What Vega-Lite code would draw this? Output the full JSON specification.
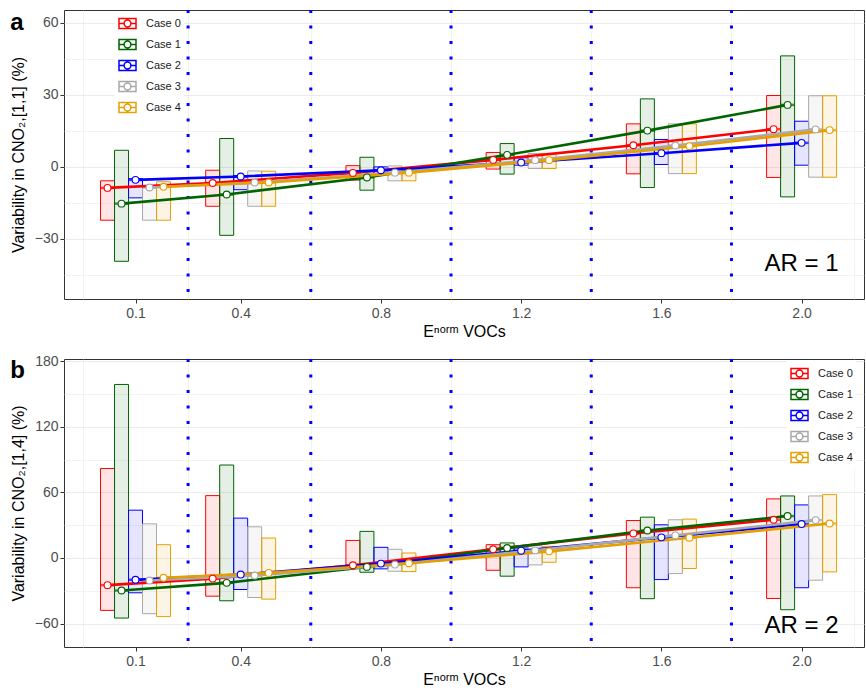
{
  "$schema": "https://vega.github.io/schema/vega-lite/v6.json",
  "padding": {"left": 9, "top": 8, "right": 0, "bottom": 0},
  "background": "white",
  "config": {
    "font": "Liberation Sans",
    "view": {"stroke": "#333333", "strokeWidth": 1},
    "axis": {
      "domain": false, "tickColor": "#333333", "tickSize": 4, "tickWidth": 1,
      "labelColor": "#4D4D4D", "labelFontSize": 14, "labelFont": "Liberation Sans", "labelPadding": 2,
      "titleFont": "Liberation Sans", "titleFontSize": 16, "titleFontWeight": "normal", "titleColor": "#000000",
      "gridColor": "#EBEBEB", "gridWidth": 1
    },
    "axisX": {"labelPadding": 3, "titlePadding": 3},
    "axisY": {"titlePadding": 8},
    "legend": {
      "orient": "none", "title": null,
      "labelFontSize": 11, "labelFont": "Liberation Sans", "labelColor": "#1A1A1A",
      "fillColor": "white", "padding": 3, "rowPadding": 3, "labelOffset": 9
    },
    "title": {"font": "Liberation Sans", "fontSize": 24, "fontWeight": "bold", "color": "#000000"}
  },
  "datasets": {
    "panelA": [
      {"E": 0.1, "case": "Case 0", "lo": -22.2, "mid": -8.75, "hi": -5.8},
      {"E": 0.1, "case": "Case 1", "lo": -39.3, "mid": -15.3, "hi": 6.9},
      {"E": 0.1, "case": "Case 2", "lo": -12.9, "mid": -5.4, "hi": -4.9},
      {"E": 0.1, "case": "Case 3", "lo": -22.2, "mid": -8.6, "hi": -7.8},
      {"E": 0.1, "case": "Case 4", "lo": -22.2, "mid": -8.3, "hi": -6.2},
      {"E": 0.4, "case": "Case 0", "lo": -16.4, "mid": -6.7, "hi": -1.4},
      {"E": 0.4, "case": "Case 1", "lo": -28.5, "mid": -11.5, "hi": 11.8},
      {"E": 0.4, "case": "Case 2", "lo": -9.5, "mid": -4.0, "hi": -3.6},
      {"E": 0.4, "case": "Case 3", "lo": -16.4, "mid": -6.5, "hi": -1.7},
      {"E": 0.4, "case": "Case 4", "lo": -16.4, "mid": -6.5, "hi": -1.8},
      {"E": 0.8, "case": "Case 0", "lo": -5.5, "mid": -2.5, "hi": 0.5},
      {"E": 0.8, "case": "Case 1", "lo": -9.7, "mid": -4.4, "hi": 4.0},
      {"E": 0.8, "case": "Case 2", "lo": -2.8, "mid": -1.4, "hi": 0.0},
      {"E": 0.8, "case": "Case 3", "lo": -5.8, "mid": -2.4, "hi": 0.4},
      {"E": 0.8, "case": "Case 4", "lo": -5.8, "mid": -2.4, "hi": -1.4},
      {"E": 1.2, "case": "Case 0", "lo": -0.9, "mid": 2.9, "hi": 6.0},
      {"E": 1.2, "case": "Case 1", "lo": -3.0, "mid": 5.0, "hi": 9.7},
      {"E": 1.2, "case": "Case 2", "lo": 0.7, "mid": 1.8, "hi": 3.8},
      {"E": 1.2, "case": "Case 3", "lo": -0.7, "mid": 2.8, "hi": 5.6},
      {"E": 1.2, "case": "Case 4", "lo": -0.7, "mid": 2.8, "hi": 5.6},
      {"E": 1.6, "case": "Case 0", "lo": -2.9, "mid": 9.0, "hi": 17.9},
      {"E": 1.6, "case": "Case 1", "lo": -8.6, "mid": 15.1, "hi": 28.3},
      {"E": 1.6, "case": "Case 2", "lo": 1.0, "mid": 5.7, "hi": 11.4},
      {"E": 1.6, "case": "Case 3", "lo": -2.8, "mid": 8.9, "hi": 17.9},
      {"E": 1.6, "case": "Case 4", "lo": -2.8, "mid": 8.6, "hi": 17.9},
      {"E": 2.0, "case": "Case 0", "lo": -4.4, "mid": 15.7, "hi": 29.7},
      {"E": 2.0, "case": "Case 1", "lo": -12.5, "mid": 25.8, "hi": 46.2},
      {"E": 2.0, "case": "Case 2", "lo": 0.7, "mid": 10.0, "hi": 19.0},
      {"E": 2.0, "case": "Case 3", "lo": -4.3, "mid": 15.6, "hi": 29.6},
      {"E": 2.0, "case": "Case 4", "lo": -4.3, "mid": 15.3, "hi": 29.6}
    ],
    "panelB": [
      {"E": 0.1, "case": "Case 0", "lo": -48.0, "mid": -24.9, "hi": 81.8},
      {"E": 0.1, "case": "Case 1", "lo": -55.0, "mid": -29.8, "hi": 158.7},
      {"E": 0.1, "case": "Case 2", "lo": -31.9, "mid": -20.0, "hi": 43.7},
      {"E": 0.1, "case": "Case 3", "lo": -51.0, "mid": -20.7, "hi": 31.2},
      {"E": 0.1, "case": "Case 4", "lo": -53.7, "mid": -18.2, "hi": 12.1},
      {"E": 0.4, "case": "Case 0", "lo": -35.0, "mid": -18.9, "hi": 57.0},
      {"E": 0.4, "case": "Case 1", "lo": -39.2, "mid": -22.8, "hi": 85.0},
      {"E": 0.4, "case": "Case 2", "lo": -28.9, "mid": -15.2, "hi": 36.4},
      {"E": 0.4, "case": "Case 3", "lo": -36.2, "mid": -16.1, "hi": 28.5},
      {"E": 0.4, "case": "Case 4", "lo": -37.7, "mid": -13.7, "hi": 18.2},
      {"E": 0.8, "case": "Case 0", "lo": -9.1, "mid": -6.7, "hi": 16.0},
      {"E": 0.8, "case": "Case 1", "lo": -13.1, "mid": -8.2, "hi": 24.3},
      {"E": 0.8, "case": "Case 2", "lo": -10.0, "mid": -5.2, "hi": 9.7},
      {"E": 0.8, "case": "Case 3", "lo": -12.2, "mid": -6.1, "hi": 7.9},
      {"E": 0.8, "case": "Case 4", "lo": -12.5, "mid": -4.9, "hi": 4.5},
      {"E": 1.2, "case": "Case 0", "lo": -11.3, "mid": 7.9, "hi": 12.1},
      {"E": 1.2, "case": "Case 1", "lo": -16.7, "mid": 9.1, "hi": 13.7},
      {"E": 1.2, "case": "Case 2", "lo": -8.2, "mid": 6.6, "hi": 9.1},
      {"E": 1.2, "case": "Case 3", "lo": -6.4, "mid": 6.9, "hi": 11.2},
      {"E": 1.2, "case": "Case 4", "lo": -4.0, "mid": 6.0, "hi": 10.6},
      {"E": 1.6, "case": "Case 0", "lo": -27.3, "mid": 22.4, "hi": 34.2},
      {"E": 1.6, "case": "Case 1", "lo": -37.3, "mid": 25.1, "hi": 37.3},
      {"E": 1.6, "case": "Case 2", "lo": -19.8, "mid": 18.8, "hi": 30.3},
      {"E": 1.6, "case": "Case 3", "lo": -14.3, "mid": 20.6, "hi": 34.9},
      {"E": 1.6, "case": "Case 4", "lo": -9.7, "mid": 18.5, "hi": 35.5},
      {"E": 2.0, "case": "Case 0", "lo": -37.1, "mid": 34.9, "hi": 54.0},
      {"E": 2.0, "case": "Case 1", "lo": -47.4, "mid": 38.3, "hi": 56.7},
      {"E": 2.0, "case": "Case 2", "lo": -27.3, "mid": 31.0, "hi": 48.5},
      {"E": 2.0, "case": "Case 3", "lo": -20.4, "mid": 34.6, "hi": 56.7},
      {"E": 2.0, "case": "Case 4", "lo": -12.8, "mid": 31.5, "hi": 57.9}
    ],
    "seps": [{"sep": 0.25}, {"sep": 0.6}, {"sep": 1.0}, {"sep": 1.4}, {"sep": 1.8}]
  },
  "vconcat": [
    {
      "width": 800, "height": 289,
      "title": {"text": "a", "anchor": "start", "frame": "bounds", "baseline": "top", "offset": -33, "dy": -7},
      "data": {"name": "panelA"},
      "layer": [
        {"data": {"name": "seps"}, "mark": {"type": "rule", "color": "#0000FF", "strokeWidth": 3, "strokeDash": [3, 12.5]},
         "encoding": {"x": {"field": "sep", "type": "quantitative", "scale": {"domain": [-0.104, 2.178], "nice": false, "zero": false},
           "axis": {"orient": "top", "values": [-0.05, 0.25, 0.6, 1.0, 1.4, 1.8, 2.15], "labels": false, "ticks": false, "domain": false, "grid": true, "gridWidth": 0.6, "title": null}}}},
        {"transform": [{"filter": {"field": "case", "equal": "Case 0"}}],
         "mark": {"type": "rect", "width": 14, "fillOpacity": 0.1, "strokeWidth": 1, "xOffset": -28},
         "encoding": {
           "x": {"field": "E", "type": "quantitative", "scale": {"domain": [-0.104, 2.178], "nice": false, "zero": false},
                 "axis": {"values": [0.1, 0.4, 0.8, 1.2, 1.6, 2.0], "format": ".1f", "title": "Eⁿᵒʳᵐ VOCs"}},
           "y": {"field": "lo", "type": "quantitative", "scale": {"domain": [-55, 65.3], "nice": false, "zero": false},
                 "axis": {"values": [-30, 0, 30, 60], "format": "d", "title": "Variability in CNO₂,[1,1] (%)"}},
           "y2": {"field": "hi"},
           "fill": {"field": "case", "type": "nominal", "scale": {"range": ["#FF0000", "#006400", "#0000FF", "#A9A9A9", "#E69F00"]}, "legend": null},
           "stroke": {"field": "case", "type": "nominal", "scale": {"range": ["#FF0000", "#006400", "#0000FF", "#A9A9A9", "#E69F00"]}, "legend": null}}},
        {"transform": [{"filter": {"field": "case", "equal": "Case 1"}}], "mark": {"type": "rect", "width": 14, "fillOpacity": 0.1, "strokeWidth": 1, "xOffset": -14},
         "encoding": {"x": {"field": "E", "type": "quantitative", "axis": null}, "y": {"field": "lo", "type": "quantitative", "axis": null}, "y2": {"field": "hi"}, "fill": {"field": "case", "type": "nominal", "legend": null}, "stroke": {"field": "case", "type": "nominal", "legend": null}}},
        {"transform": [{"filter": {"field": "case", "equal": "Case 2"}}], "mark": {"type": "rect", "width": 14, "fillOpacity": 0.1, "strokeWidth": 1, "xOffset": 0},
         "encoding": {"x": {"field": "E", "type": "quantitative", "axis": null}, "y": {"field": "lo", "type": "quantitative", "axis": null}, "y2": {"field": "hi"}, "fill": {"field": "case", "type": "nominal", "legend": null}, "stroke": {"field": "case", "type": "nominal", "legend": null}}},
        {"transform": [{"filter": {"field": "case", "equal": "Case 3"}}], "mark": {"type": "rect", "width": 14, "fillOpacity": 0.1, "strokeWidth": 1, "xOffset": 14},
         "encoding": {"x": {"field": "E", "type": "quantitative", "axis": null}, "y": {"field": "lo", "type": "quantitative", "axis": null}, "y2": {"field": "hi"}, "fill": {"field": "case", "type": "nominal", "legend": null}, "stroke": {"field": "case", "type": "nominal", "legend": null}}},
        {"transform": [{"filter": {"field": "case", "equal": "Case 4"}}], "mark": {"type": "rect", "width": 14, "fillOpacity": 0.1, "strokeWidth": 1, "xOffset": 28},
         "encoding": {"x": {"field": "E", "type": "quantitative", "axis": null}, "y": {"field": "lo", "type": "quantitative", "axis": null}, "y2": {"field": "hi"}, "fill": {"field": "case", "type": "nominal", "legend": null}, "stroke": {"field": "case", "type": "nominal", "legend": null}}},
        {"transform": [{"filter": {"field": "case", "equal": "Case 0"}}], "mark": {"type": "tick", "orient": "horizontal", "size": 14, "thickness": 2.5, "xOffset": -28},
         "encoding": {"x": {"field": "E", "type": "quantitative", "axis": null}, "y": {"field": "mid", "type": "quantitative", "axis": null}, "fill": {"field": "case", "type": "nominal", "legend": null}}},
        {"transform": [{"filter": {"field": "case", "equal": "Case 1"}}], "mark": {"type": "tick", "orient": "horizontal", "size": 14, "thickness": 2.5, "xOffset": -14},
         "encoding": {"x": {"field": "E", "type": "quantitative", "axis": null}, "y": {"field": "mid", "type": "quantitative", "axis": null}, "fill": {"field": "case", "type": "nominal", "legend": null}}},
        {"transform": [{"filter": {"field": "case", "equal": "Case 2"}}], "mark": {"type": "tick", "orient": "horizontal", "size": 14, "thickness": 2.5, "xOffset": 0},
         "encoding": {"x": {"field": "E", "type": "quantitative", "axis": null}, "y": {"field": "mid", "type": "quantitative", "axis": null}, "fill": {"field": "case", "type": "nominal", "legend": null}}},
        {"transform": [{"filter": {"field": "case", "equal": "Case 3"}}], "mark": {"type": "tick", "orient": "horizontal", "size": 14, "thickness": 2.5, "xOffset": 14},
         "encoding": {"x": {"field": "E", "type": "quantitative", "axis": null}, "y": {"field": "mid", "type": "quantitative", "axis": null}, "fill": {"field": "case", "type": "nominal", "legend": null}}},
        {"transform": [{"filter": {"field": "case", "equal": "Case 4"}}], "mark": {"type": "tick", "orient": "horizontal", "size": 14, "thickness": 2.5, "xOffset": 28},
         "encoding": {"x": {"field": "E", "type": "quantitative", "axis": null}, "y": {"field": "mid", "type": "quantitative", "axis": null}, "fill": {"field": "case", "type": "nominal", "legend": null}}},
        {"transform": [{"filter": {"field": "case", "equal": "Case 0"}}], "mark": {"type": "line", "strokeWidth": 2.6, "xOffset": -28},
         "encoding": {"x": {"field": "E", "type": "quantitative", "axis": null}, "y": {"field": "mid", "type": "quantitative", "axis": null}, "stroke": {"field": "case", "type": "nominal", "legend": null}}},
        {"transform": [{"filter": {"field": "case", "equal": "Case 1"}}], "mark": {"type": "line", "strokeWidth": 2.6, "xOffset": -14},
         "encoding": {"x": {"field": "E", "type": "quantitative", "axis": null}, "y": {"field": "mid", "type": "quantitative", "axis": null}, "stroke": {"field": "case", "type": "nominal", "legend": null}}},
        {"transform": [{"filter": {"field": "case", "equal": "Case 2"}}], "mark": {"type": "line", "strokeWidth": 2.6, "xOffset": 0},
         "encoding": {"x": {"field": "E", "type": "quantitative", "axis": null}, "y": {"field": "mid", "type": "quantitative", "axis": null}, "stroke": {"field": "case", "type": "nominal", "legend": null}}},
        {"transform": [{"filter": {"field": "case", "equal": "Case 3"}}], "mark": {"type": "line", "strokeWidth": 2.6, "xOffset": 14},
         "encoding": {"x": {"field": "E", "type": "quantitative", "axis": null}, "y": {"field": "mid", "type": "quantitative", "axis": null}, "stroke": {"field": "case", "type": "nominal", "legend": null}}},
        {"transform": [{"filter": {"field": "case", "equal": "Case 4"}}], "mark": {"type": "line", "strokeWidth": 2.6, "xOffset": 28},
         "encoding": {"x": {"field": "E", "type": "quantitative", "axis": null}, "y": {"field": "mid", "type": "quantitative", "axis": null}, "stroke": {"field": "case", "type": "nominal", "legend": null}}},
        {"transform": [{"filter": {"field": "case", "equal": "Case 0"}}], "mark": {"type": "point", "filled": true, "fill": "white", "size": 46, "strokeWidth": 1.1, "opacity": 1, "xOffset": -28},
         "encoding": {"x": {"field": "E", "type": "quantitative", "axis": null}, "y": {"field": "mid", "type": "quantitative", "axis": null}, "stroke": {"field": "case", "type": "nominal", "legend": null}}},
        {"transform": [{"filter": {"field": "case", "equal": "Case 1"}}], "mark": {"type": "point", "filled": true, "fill": "white", "size": 46, "strokeWidth": 1.1, "opacity": 1, "xOffset": -14},
         "encoding": {"x": {"field": "E", "type": "quantitative", "axis": null}, "y": {"field": "mid", "type": "quantitative", "axis": null}, "stroke": {"field": "case", "type": "nominal", "legend": null}}},
        {"transform": [{"filter": {"field": "case", "equal": "Case 2"}}], "mark": {"type": "point", "filled": true, "fill": "white", "size": 46, "strokeWidth": 1.1, "opacity": 1, "xOffset": 0},
         "encoding": {"x": {"field": "E", "type": "quantitative", "axis": null}, "y": {"field": "mid", "type": "quantitative", "axis": null}, "stroke": {"field": "case", "type": "nominal", "legend": null}}},
        {"transform": [{"filter": {"field": "case", "equal": "Case 3"}}], "mark": {"type": "point", "filled": true, "fill": "white", "size": 46, "strokeWidth": 1.1, "opacity": 1, "xOffset": 14},
         "encoding": {"x": {"field": "E", "type": "quantitative", "axis": null}, "y": {"field": "mid", "type": "quantitative", "axis": null}, "stroke": {"field": "case", "type": "nominal", "legend": null}}},
        {"transform": [{"filter": {"field": "case", "equal": "Case 4"}}], "mark": {"type": "point", "filled": true, "fill": "white", "size": 46, "strokeWidth": 1.1, "opacity": 1, "xOffset": 28},
         "encoding": {"x": {"field": "E", "type": "quantitative", "axis": null}, "y": {"field": "mid", "type": "quantitative", "axis": null}, "stroke": {"field": "case", "type": "nominal", "legend": null}}},
        {"transform": [{"filter": {"field": "case", "equal": "none"}}],
         "mark": {"type": "point", "filled": false, "strokeWidth": 1.5},
         "encoding": {"x": {"field": "E", "type": "quantitative", "axis": null}, "y": {"field": "mid", "type": "quantitative", "axis": null},
           "color": {"field": "case", "type": "nominal", "scale": {"domain": ["Case 0", "Case 1", "Case 2", "Case 3", "Case 4"], "range": ["#FF0000", "#006400", "#0000FF", "#A9A9A9", "#E69F00"]},
             "legend": {"legendX": 51, "legendY": 1, "symbolType": "M-1,-0.6H1V0.6H-1Z M-1,0H-0.4 M0.4,0H1 M0.4,0A0.4,0.4 0 1 1 -0.4,0A0.4,0.4 0 1 1 0.4,0", "symbolSize": 289, "symbolStrokeWidth": 1.5, "symbolFillColor": "white", "symbolOpacity": 1}}}},
        {"data": {"values": [{"label": "AR = 1"}]},
         "mark": {"type": "text", "fontSize": 24, "font": "Liberation Sans", "align": "center", "baseline": "middle", "color": "#000000"},
         "encoding": {"text": {"field": "label", "type": "nominal"},
           "x": {"datum": 2.0, "type": "quantitative", "axis": null},
           "y": {"datum": -40.5, "type": "quantitative",
                 "axis": {"orient": "right", "values": [-45, -15, 15, 45], "labels": false, "ticks": false, "domain": false, "grid": true, "gridWidth": 0.6, "title": null}}}}
      ],
      "resolve": {"axis": {"x": "independent", "y": "independent"}}
    },
    {
      "width": 800, "height": 288,
      "title": {"text": "b", "anchor": "start", "frame": "bounds", "baseline": "top", "offset": -33, "dy": -4},
      "data": {"name": "panelB"},
      "layer": [
        {"data": {"name": "seps"}, "mark": {"type": "rule", "color": "#0000FF", "strokeWidth": 3, "strokeDash": [3, 12.5]},
         "encoding": {"x": {"field": "sep", "type": "quantitative", "scale": {"domain": [-0.104, 2.178], "nice": false, "zero": false},
           "axis": {"orient": "top", "values": [-0.05, 0.25, 0.6, 1.0, 1.4, 1.8, 2.15], "labels": false, "ticks": false, "domain": false, "grid": true, "gridWidth": 0.6, "title": null}}}},
        {"transform": [{"filter": {"field": "case", "equal": "Case 0"}}],
         "mark": {"type": "rect", "width": 14, "fillOpacity": 0.1, "strokeWidth": 1, "xOffset": -28},
         "encoding": {
           "x": {"field": "E", "type": "quantitative", "scale": {"domain": [-0.104, 2.178], "nice": false, "zero": false},
                 "axis": {"values": [0.1, 0.4, 0.8, 1.2, 1.6, 2.0], "format": ".1f", "title": "Eⁿᵒʳᵐ VOCs"}},
           "y": {"field": "lo", "type": "quantitative", "scale": {"domain": [-81.5, 182], "nice": false, "zero": false},
                 "axis": {"values": [-60, 0, 60, 120, 180], "format": "d", "title": "Variability in CNO₂,[1,4] (%)"}},
           "y2": {"field": "hi"},
           "fill": {"field": "case", "type": "nominal", "scale": {"range": ["#FF0000", "#006400", "#0000FF", "#A9A9A9", "#E69F00"]}, "legend": null},
           "stroke": {"field": "case", "type": "nominal", "scale": {"range": ["#FF0000", "#006400", "#0000FF", "#A9A9A9", "#E69F00"]}, "legend": null}}},
        {"transform": [{"filter": {"field": "case", "equal": "Case 1"}}], "mark": {"type": "rect", "width": 14, "fillOpacity": 0.1, "strokeWidth": 1, "xOffset": -14},
         "encoding": {"x": {"field": "E", "type": "quantitative", "axis": null}, "y": {"field": "lo", "type": "quantitative", "axis": null}, "y2": {"field": "hi"}, "fill": {"field": "case", "type": "nominal", "legend": null}, "stroke": {"field": "case", "type": "nominal", "legend": null}}},
        {"transform": [{"filter": {"field": "case", "equal": "Case 2"}}], "mark": {"type": "rect", "width": 14, "fillOpacity": 0.1, "strokeWidth": 1, "xOffset": 0},
         "encoding": {"x": {"field": "E", "type": "quantitative", "axis": null}, "y": {"field": "lo", "type": "quantitative", "axis": null}, "y2": {"field": "hi"}, "fill": {"field": "case", "type": "nominal", "legend": null}, "stroke": {"field": "case", "type": "nominal", "legend": null}}},
        {"transform": [{"filter": {"field": "case", "equal": "Case 3"}}], "mark": {"type": "rect", "width": 14, "fillOpacity": 0.1, "strokeWidth": 1, "xOffset": 14},
         "encoding": {"x": {"field": "E", "type": "quantitative", "axis": null}, "y": {"field": "lo", "type": "quantitative", "axis": null}, "y2": {"field": "hi"}, "fill": {"field": "case", "type": "nominal", "legend": null}, "stroke": {"field": "case", "type": "nominal", "legend": null}}},
        {"transform": [{"filter": {"field": "case", "equal": "Case 4"}}], "mark": {"type": "rect", "width": 14, "fillOpacity": 0.1, "strokeWidth": 1, "xOffset": 28},
         "encoding": {"x": {"field": "E", "type": "quantitative", "axis": null}, "y": {"field": "lo", "type": "quantitative", "axis": null}, "y2": {"field": "hi"}, "fill": {"field": "case", "type": "nominal", "legend": null}, "stroke": {"field": "case", "type": "nominal", "legend": null}}},
        {"transform": [{"filter": {"field": "case", "equal": "Case 0"}}], "mark": {"type": "tick", "orient": "horizontal", "size": 14, "thickness": 2.5, "xOffset": -28},
         "encoding": {"x": {"field": "E", "type": "quantitative", "axis": null}, "y": {"field": "mid", "type": "quantitative", "axis": null}, "fill": {"field": "case", "type": "nominal", "legend": null}}},
        {"transform": [{"filter": {"field": "case", "equal": "Case 1"}}], "mark": {"type": "tick", "orient": "horizontal", "size": 14, "thickness": 2.5, "xOffset": -14},
         "encoding": {"x": {"field": "E", "type": "quantitative", "axis": null}, "y": {"field": "mid", "type": "quantitative", "axis": null}, "fill": {"field": "case", "type": "nominal", "legend": null}}},
        {"transform": [{"filter": {"field": "case", "equal": "Case 2"}}], "mark": {"type": "tick", "orient": "horizontal", "size": 14, "thickness": 2.5, "xOffset": 0},
         "encoding": {"x": {"field": "E", "type": "quantitative", "axis": null}, "y": {"field": "mid", "type": "quantitative", "axis": null}, "fill": {"field": "case", "type": "nominal", "legend": null}}},
        {"transform": [{"filter": {"field": "case", "equal": "Case 3"}}], "mark": {"type": "tick", "orient": "horizontal", "size": 14, "thickness": 2.5, "xOffset": 14},
         "encoding": {"x": {"field": "E", "type": "quantitative", "axis": null}, "y": {"field": "mid", "type": "quantitative", "axis": null}, "fill": {"field": "case", "type": "nominal", "legend": null}}},
        {"transform": [{"filter": {"field": "case", "equal": "Case 4"}}], "mark": {"type": "tick", "orient": "horizontal", "size": 14, "thickness": 2.5, "xOffset": 28},
         "encoding": {"x": {"field": "E", "type": "quantitative", "axis": null}, "y": {"field": "mid", "type": "quantitative", "axis": null}, "fill": {"field": "case", "type": "nominal", "legend": null}}},
        {"transform": [{"filter": {"field": "case", "equal": "Case 0"}}], "mark": {"type": "line", "strokeWidth": 2.6, "xOffset": -28},
         "encoding": {"x": {"field": "E", "type": "quantitative", "axis": null}, "y": {"field": "mid", "type": "quantitative", "axis": null}, "stroke": {"field": "case", "type": "nominal", "legend": null}}},
        {"transform": [{"filter": {"field": "case", "equal": "Case 1"}}], "mark": {"type": "line", "strokeWidth": 2.6, "xOffset": -14},
         "encoding": {"x": {"field": "E", "type": "quantitative", "axis": null}, "y": {"field": "mid", "type": "quantitative", "axis": null}, "stroke": {"field": "case", "type": "nominal", "legend": null}}},
        {"transform": [{"filter": {"field": "case", "equal": "Case 2"}}], "mark": {"type": "line", "strokeWidth": 2.6, "xOffset": 0},
         "encoding": {"x": {"field": "E", "type": "quantitative", "axis": null}, "y": {"field": "mid", "type": "quantitative", "axis": null}, "stroke": {"field": "case", "type": "nominal", "legend": null}}},
        {"transform": [{"filter": {"field": "case", "equal": "Case 3"}}], "mark": {"type": "line", "strokeWidth": 2.6, "xOffset": 14},
         "encoding": {"x": {"field": "E", "type": "quantitative", "axis": null}, "y": {"field": "mid", "type": "quantitative", "axis": null}, "stroke": {"field": "case", "type": "nominal", "legend": null}}},
        {"transform": [{"filter": {"field": "case", "equal": "Case 4"}}], "mark": {"type": "line", "strokeWidth": 2.6, "xOffset": 28},
         "encoding": {"x": {"field": "E", "type": "quantitative", "axis": null}, "y": {"field": "mid", "type": "quantitative", "axis": null}, "stroke": {"field": "case", "type": "nominal", "legend": null}}},
        {"transform": [{"filter": {"field": "case", "equal": "Case 0"}}], "mark": {"type": "point", "filled": true, "fill": "white", "size": 46, "strokeWidth": 1.1, "opacity": 1, "xOffset": -28},
         "encoding": {"x": {"field": "E", "type": "quantitative", "axis": null}, "y": {"field": "mid", "type": "quantitative", "axis": null}, "stroke": {"field": "case", "type": "nominal", "legend": null}}},
        {"transform": [{"filter": {"field": "case", "equal": "Case 1"}}], "mark": {"type": "point", "filled": true, "fill": "white", "size": 46, "strokeWidth": 1.1, "opacity": 1, "xOffset": -14},
         "encoding": {"x": {"field": "E", "type": "quantitative", "axis": null}, "y": {"field": "mid", "type": "quantitative", "axis": null}, "stroke": {"field": "case", "type": "nominal", "legend": null}}},
        {"transform": [{"filter": {"field": "case", "equal": "Case 2"}}], "mark": {"type": "point", "filled": true, "fill": "white", "size": 46, "strokeWidth": 1.1, "opacity": 1, "xOffset": 0},
         "encoding": {"x": {"field": "E", "type": "quantitative", "axis": null}, "y": {"field": "mid", "type": "quantitative", "axis": null}, "stroke": {"field": "case", "type": "nominal", "legend": null}}},
        {"transform": [{"filter": {"field": "case", "equal": "Case 3"}}], "mark": {"type": "point", "filled": true, "fill": "white", "size": 46, "strokeWidth": 1.1, "opacity": 1, "xOffset": 14},
         "encoding": {"x": {"field": "E", "type": "quantitative", "axis": null}, "y": {"field": "mid", "type": "quantitative", "axis": null}, "stroke": {"field": "case", "type": "nominal", "legend": null}}},
        {"transform": [{"filter": {"field": "case", "equal": "Case 4"}}], "mark": {"type": "point", "filled": true, "fill": "white", "size": 46, "strokeWidth": 1.1, "opacity": 1, "xOffset": 28},
         "encoding": {"x": {"field": "E", "type": "quantitative", "axis": null}, "y": {"field": "mid", "type": "quantitative", "axis": null}, "stroke": {"field": "case", "type": "nominal", "legend": null}}},
        {"transform": [{"filter": {"field": "case", "equal": "none"}}],
         "mark": {"type": "point", "filled": false, "strokeWidth": 1.5},
         "encoding": {"x": {"field": "E", "type": "quantitative", "axis": null}, "y": {"field": "mid", "type": "quantitative", "axis": null},
           "color": {"field": "case", "type": "nominal", "scale": {"domain": ["Case 0", "Case 1", "Case 2", "Case 3", "Case 4"], "range": ["#FF0000", "#006400", "#0000FF", "#A9A9A9", "#E69F00"]},
             "legend": {"legendX": 723, "legendY": 2, "symbolType": "M-1,-0.6H1V0.6H-1Z M-1,0H-0.4 M0.4,0H1 M0.4,0A0.4,0.4 0 1 1 -0.4,0A0.4,0.4 0 1 1 0.4,0", "symbolSize": 289, "symbolStrokeWidth": 1.5, "symbolFillColor": "white", "symbolOpacity": 1}}}},
        {"data": {"values": [{"label": "AR = 2"}]},
         "mark": {"type": "text", "fontSize": 24, "font": "Liberation Sans", "align": "center", "baseline": "middle", "color": "#000000"},
         "encoding": {"text": {"field": "label", "type": "nominal"},
           "x": {"datum": 2.0, "type": "quantitative", "axis": null},
           "y": {"datum": -62, "type": "quantitative",
                 "axis": {"orient": "right", "values": [-30, 30, 90, 150], "labels": false, "ticks": false, "domain": false, "grid": true, "gridWidth": 0.6, "title": null}}}}
      ],
      "resolve": {"axis": {"x": "independent", "y": "independent"}}
    }
  ],
  "spacing": 13,
  "resolve": {"scale": {"fill": "independent", "stroke": "independent", "color": "independent"}, "legend": {"color": "independent"}}
}
